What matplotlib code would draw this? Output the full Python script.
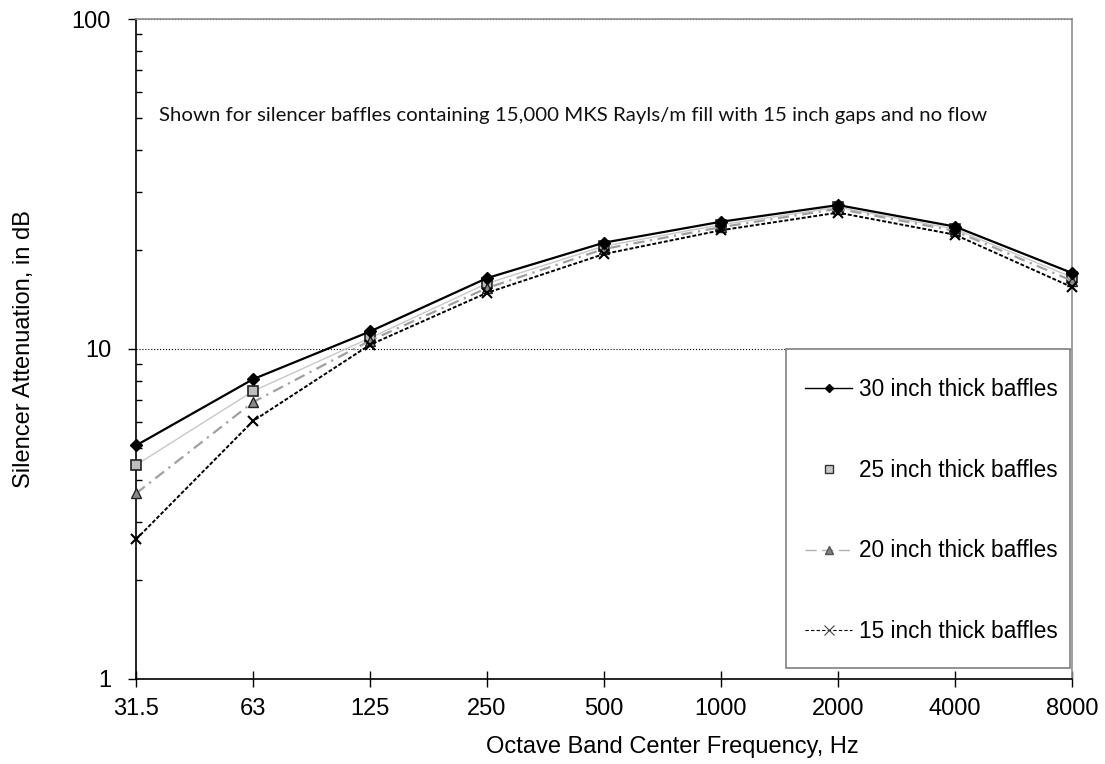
import matplotlib
matplotlib.use("Agg")
import matplotlib.pyplot as plt
from matplotlib.lines import Line2D
from matplotlib.patches import Rectangle
from matplotlib.ticker import LogLocator, FixedLocator, NullFormatter

# octave bands and attenuation (dB)
bands = ["31.5", "63", "125", "250", "500", "1000", "2000", "4000", "8000"]
att_30 = [5.1, 8.1, 11.3, 16.4, 21.0, 24.3, 27.3, 23.5, 17.0]
att_25 = [4.45, 7.45, 10.8, 15.8, 20.5, 23.8, 26.9, 23.1, 16.5]
att_20 = [3.65, 6.9, 10.6, 15.3, 20.1, 23.4, 26.6, 22.8, 16.1]
att_15 = [2.65, 6.05, 10.3, 14.8, 19.4, 22.9, 25.9, 22.2, 15.4]
labels = ["30 inch thick baffles", "25 inch thick baffles",
          "20 inch thick baffles", "15 inch thick baffles"]
note = "Shown for silencer baffles containing 15,000 MKS Rayls/m fill with 15 inch gaps and no flow"

plt.rcParams["font.family"] = ["Liberation Sans", "DejaVu Sans"]

fig = plt.figure(figsize=(11.05, 7.64), dpi=100)
ax = fig.add_axes([0.1231, 0.1113, 0.8470, 0.8638])

x = list(range(len(bands)))

# series
ax.plot(x, att_25, color="#c8c8c8", lw=1.0, marker="s", ms=7,
        mfc="#bdbdbd", mec="#222222", mew=1.2, clip_on=False, zorder=3)
ax.plot(x, att_20, color="#a0a0a0", lw=1.6, dashes=(5, 2.5, 1, 2.5), marker="^", ms=7,
        mfc="#8a8a8a", mec="#222222", mew=1.0, clip_on=False, zorder=3)
ax.plot(x, att_15, color="black", lw=1.4, dashes=(2, 1), marker="x", ms=7.5,
        mec="black", mew=1.5, clip_on=False, zorder=4)
ax.plot(x, att_30, color="black", lw=1.6, marker="D", ms=6.5,
        mfc="black", mec="black", clip_on=False, zorder=5)

ax.set_yscale("log")
ax.set_ylim(1, 100)
ax.set_xlim(0, len(bands) - 1)
ax.set_xticks(x)
ax.set_xticklabels(bands)
ax.yaxis.set_major_locator(FixedLocator([1, 10, 100]))
ax.set_yticklabels(["1", "10", "100"])
ax.yaxis.set_minor_locator(LogLocator(base=10, subs=range(2, 10)))
ax.yaxis.set_minor_formatter(NullFormatter())

ax.tick_params(axis="x", direction="inout", length=11.5, width=1, pad=8, labelsize=17)
ax.tick_params(axis="y", which="major", direction="out", length=6, width=1, pad=12, labelsize=17)
ax.tick_params(axis="y", which="minor", direction="in", length=4.5, width=1)

ax.yaxis.grid(True, which="major", color="black", linestyle=":", lw=0.8)

for s in ["left", "bottom"]:
    ax.spines[s].set_color("black")
    ax.spines[s].set_linewidth(1.2)
for s in ["top", "right"]:
    ax.spines[s].set_color("#909090")
    ax.spines[s].set_linewidth(1.2)

# axis titles
fig.text(24 / 1105, 1 - 349 / 764, "Silencer Attenuation, in dB", rotation=90,
         ha="center", va="center", fontsize=17)
fig.text(672 / 1105, 1 - 753 / 764, "Octave Band Center Frequency, Hz",
         ha="center", va="baseline", fontsize=17)

# note
ax.text(0.0246, 0.867, note, transform=ax.transAxes, ha="left", va="top",
        fontsize=14.7, family=["Lato", "DejaVu Sans"], color="#111111")

# legend box
ax.add_patch(Rectangle((0.6944, 0.0167), 0.3036, 0.4833, transform=ax.transAxes,
                       facecolor="white", edgecolor="#808080", lw=1.2, zorder=6))

handles = [
    Line2D([], [], color="black", lw=1.0, marker="D", ms=4.5, mfc="black", mec="black"),
    Line2D([], [], linestyle="none", marker="s", ms=6, mfc="#c8c8c8", mec="#333333", mew=1.0),
    Line2D([], [], color="#b0b0b0", lw=1.0, dashes=(8, 4), marker="^", ms=6,
           mfc="#808080", mec="#555555"),
    Line2D([], [], color="black", lw=0.8, dashes=(3, 2), marker="x", ms=7, mec="#444444", mew=0.8),
]
leg = ax.legend(handles, labels, loc="upper left", bbox_to_anchor=(0.7147, 0.456),
                frameon=False, fontsize=16.3, labelspacing=2.55, handlelength=2.1,
                handletextpad=0.28, borderpad=0, borderaxespad=0)
leg.set_zorder(7)

fig.savefig("out.png", dpi=100)
